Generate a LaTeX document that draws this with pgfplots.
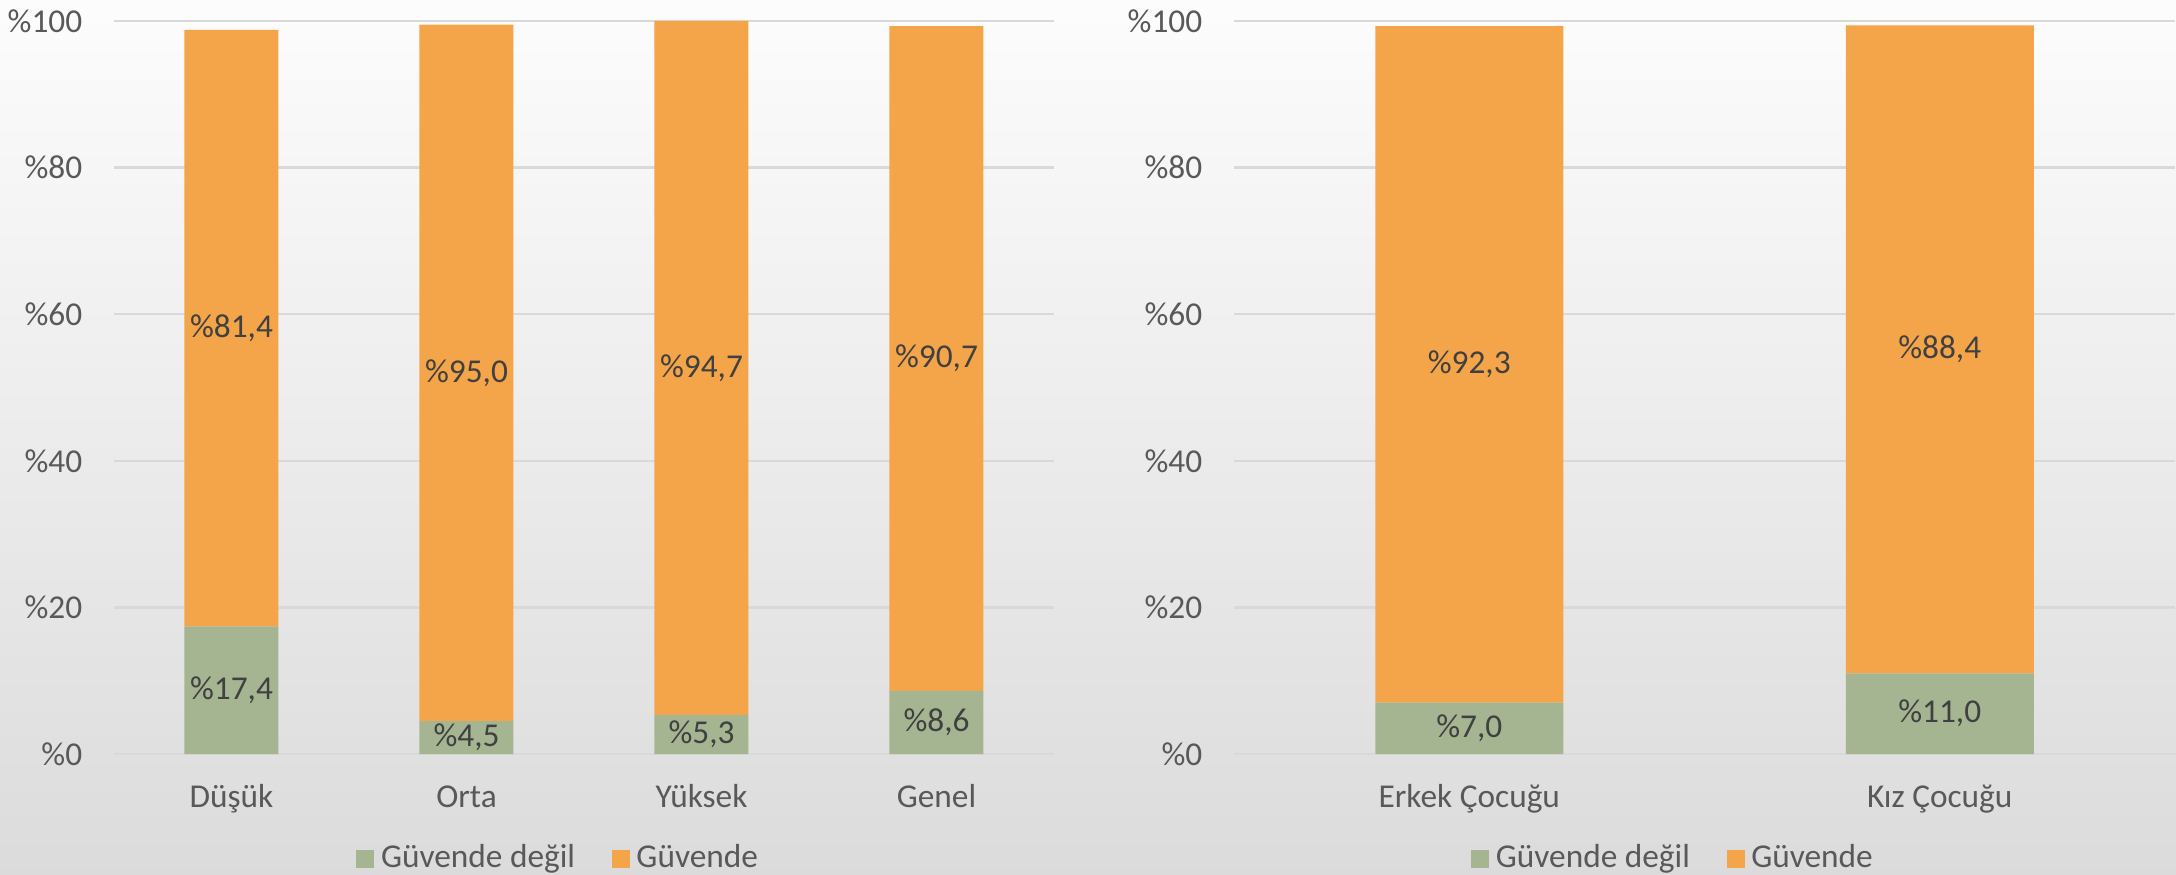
\documentclass[border=0pt]{standalone}
\usepackage{pgfplots}
\pgfplotsset{compat=1.18}
\usepackage{pgfplotstable}
\usepackage{fontspec}
\setmainfont{Carlito}

\definecolor{degilc}{HTML}{A5B592}
\definecolor{guvc}{HTML}{F4A54A}
\definecolor{tickc}{HTML}{595959}
\definecolor{labc}{HTML}{404040}
\definecolor{gridc}{HTML}{D9D9D9}

% sosyoekonomik duzey
\pgfplotstableread{
x degil guvende
0 17.4 81.4
1 4.5  95.0
2 5.3  94.7
3 8.6  90.7
}\sesdata
% cinsiyet
\pgfplotstableread{
x degil guvende
0 7.0  92.3
1 11.0 88.4
}\cinsdata

\pgfplotsset{
  /pgf/number format/assume math mode=true,
  panel/.style={
    ybar stacked,
    scale only axis,
    height=219.9pt,
    anchor=south west,
    ymin=0, ymax=100,
    enlarge x limits=false, enlarge y limits=false,
    ytick={0,20,...,100},
    yticklabel={\%\pgfmathprintnumber{\tick}},
    axis line style={draw=none},
    major tick length=0pt,
    ymajorgrids,
    grid style={gridc, line width=0.7pt},
    tick label style={font=\fontsize{10}{12}\selectfont, text=tickc},
    yticklabel style={xshift=-6pt},
    xticklabel style={anchor=base, yshift=-16pt},
    clip=false,
    legend columns=2,
    legend image code/.code={\fill[##1] (0pt,-2.7pt) rectangle (5.4pt,2.7pt);},
    legend style={draw=none, fill=none, anchor=center,
      font=\fontsize{10}{12}\selectfont, text=tickc,
      /tikz/every even column/.append style={column sep=9pt},
      inner sep=0pt},
  },
  % yigin cubuklarda etiketler zaten dilimin ortasina konuyor
  seg/.style={
    draw=none, fill=#1,
    point meta=explicit,
    nodes near coords={\%\pgfmathprintnumber[fixed,fixed zerofill,precision=1,use comma]{\pgfplotspointmeta}},
    every node near coord/.append style={anchor=center, text=labc,
      font=\fontsize{10}{12}\selectfont},
  },
}

\begin{document}
\begin{tikzpicture}
\useasboundingbox (0,0) rectangle (652.8pt,262.2pt);
\shade[top color=white!99!black, bottom color=white!86!black] (0,0) rectangle (652.8pt,262.2pt);

\begin{axis}[panel,
  at={(34.2pt,36pt)}, width=282pt,
  bar width=28.2pt,
  xmin=-0.5, xmax=3.5,
  xtick={0,1,2,3},
  xticklabels={Düşük,Orta,Yüksek,Genel},
  legend style={at={(0.475,-0.143)}},
]
\addplot[seg=degilc] table[x=x, y=degil, meta=degil] {\sesdata};
\addplot[seg=guvc] table[x=x, y=guvende, meta=guvende] {\sesdata};
\legend{Güvende değil, Güvende}
\end{axis}

\begin{axis}[panel,
  at={(370.2pt,36pt)}, width=282.3pt,
  bar width=56.4pt,
  xmin=-0.5, xmax=1.5,
  xtick={0,1},
  xticklabels={Erkek Çocuğu,Kız Çocuğu},
  legend style={at={(0.469,-0.143)}},
]
\addplot[seg=degilc] table[x=x, y=degil, meta=degil] {\cinsdata};
\addplot[seg=guvc] table[x=x, y=guvende, meta=guvende] {\cinsdata};
\legend{Güvende değil, Güvende}
\end{axis}
\end{tikzpicture}
\end{document}
